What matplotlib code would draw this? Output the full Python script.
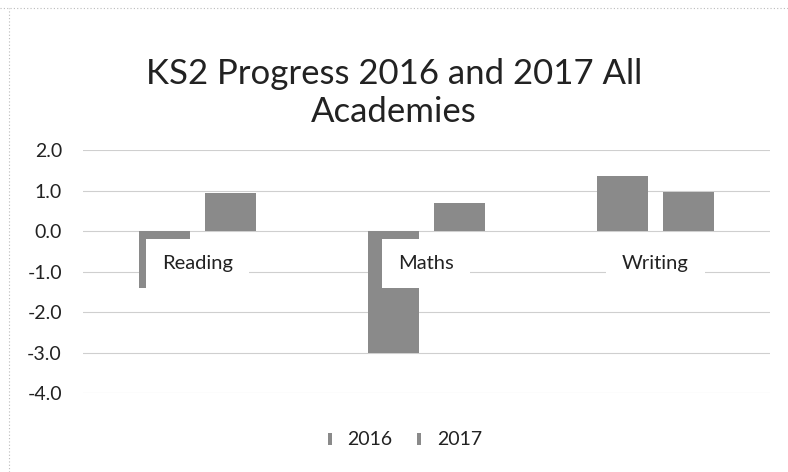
import matplotlib
matplotlib.use("Agg")
import matplotlib.pyplot as plt
from matplotlib.lines import Line2D
import numpy as np

categories = ["Reading", "Maths", "Writing"]
series_names = ["2016", "2017"]
values_2016 = [-1.4, -3.0, 1.36]
values_2017 = [0.95, 0.7, 0.96]
yticks = [2.0, 1.0, 0.0, -1.0, -2.0, -3.0, -4.0]

plt.rcParams['font.family'] = ['Lato', 'DejaVu Sans']

fig = plt.figure(figsize=(7.88, 4.72), dpi=100)
ax = fig.add_axes([0.105, 0.167, 0.872, 0.515])

x = np.arange(len(categories))
bw = 0.223
off = 0.144
bar_color = "#8a8a8a"
ax.bar(x - off, values_2016, width=bw, color=bar_color, zorder=2)
ax.bar(x + off, values_2017, width=bw, color=bar_color, zorder=2)

ax.set_xlim(-0.5, 2.5)
ax.set_ylim(-4.0, 2.0)
ax.set_yticks(yticks)
ax.set_yticklabels([f"{v:.1f}" for v in yticks], fontsize=14, color="#222222")
ax.tick_params(axis='y', length=0, pad=15)
ax.set_xticks([])
ax.grid(axis='y', color="#cfcfcf", linewidth=0.8, zorder=0)
for s in ax.spines.values():
    s.set_visible(False)

for xi, c in zip(x, categories):
    ax.text(xi, -0.8, c, ha='center', va='center', fontsize=14.5, color="#222222",
            bbox=dict(boxstyle='square,pad=0.8', facecolor='white', edgecolor='none'),
            zorder=3)

fig.text(0.5, 0.803, "KS2 Progress 2016 and 2017 All\nAcademies", ha='center', va='center',
         fontsize=25, color="#222222", linespacing=1.25)

marker = [(-0.3, -1), (0.3, -1), (0.3, 1), (-0.3, 1)]
handles = [Line2D([], [], marker=marker, linestyle='None', markersize=9,
                  color=bar_color, markeredgewidth=0) for _ in series_names]
fig.legend(handles, series_names, loc='center', bbox_to_anchor=(0.51, 0.068), ncol=2,
           frameon=False, fontsize=14, handlelength=0.8, handletextpad=0.5,
           columnspacing=1.0, labelcolor="#222222")

# dotted chart frame (top and left)
fig.add_artist(Line2D([0.0, 1.0], [0.983, 0.983], transform=fig.transFigure,
                      color="#bbbbbb", linestyle=(0, (1, 2)), linewidth=0.8))
fig.add_artist(Line2D([0.011, 0.011], [0.0, 0.983], transform=fig.transFigure,
                      color="#bbbbbb", linestyle=(0, (1, 2)), linewidth=0.8))

fig.savefig("out.png", dpi=100, facecolor="white")
